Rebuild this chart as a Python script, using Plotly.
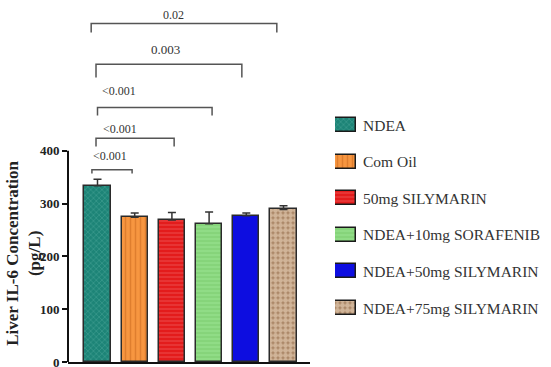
import plotly.graph_objects as go

# ---- data ----
groups = ["NDEA", "Corn Oil", "50mg SILYMARIN", "NDEA+10mg SORAFENIB",
          "NDEA+50mg SILYMARIN", "NDEA+75mg SILYMARIN"]
legend_labels = ["NDEA", "Com Oil", "50mg SILYMARIN", "NDEA+10mg SORAFENIB",
                 "NDEA+50mg SILYMARIN", "NDEA+75mg SILYMARIN"]
means = [334, 274, 269, 262, 277, 289]
sems = [12, 8, 14, 22, 5, 7]
y_ticks = [0, 100, 200, 300, 400]
# comparisons: (group a, group b, p label)
comparisons = [(0, 5, "0.02"), (0, 4, "0.003"), (0, 3, "<0.001"),
               (0, 2, "<0.001"), (0, 1, "<0.001")]

# ---- styles ----
colors = ["#1d8477", "#f79640", "#e31c1c", "#90dc86", "#0d0de0", "#a88464"]
patterns = [
    dict(shape="x", fgcolor="#5fb5a8", size=4, solidity=0.3),
    dict(shape="|", fgcolor="#c8661c", size=5, solidity=0.3),
    dict(shape="-", fgcolor="#f26a6a", size=4, solidity=0.3),
    dict(shape="-", fgcolor="#6cc25e", size=4, solidity=0.3),
    dict(shape=""),
    dict(shape=".", fgcolor="#f7e4cc", size=5, solidity=0.75),
]
# bracket geometry: (x_left, x_right, y_top, y_drop, text_x, text_y, font size)
bracket_geo = [
    (-0.17, 4.82, 641, 624, 2.03, 658, 12),
    (-0.04, 3.88, 564, 539, 1.84, 592, 13),
    (0.0, 3.08, 482, 467, 0.58, 514, 12),
    (-0.04, 2.06, 424, 408, 0.60, 442, 12),
    (-0.15, 0.93, 364, 357, 0.34, 391, 12),
]

serif = "Liberation Serif, Times New Roman, serif"
W, H = 551, 367
ML, MR, MT, MB = 68, 5, 3, 5
PW = W - ML - MR
def px2paper(px):
    return (px - ML) / PW

fig = go.Figure()
xs = list(range(len(groups)))
for i in xs:
    fig.add_trace(go.Bar(
        x=[i], y=[means[i]], width=0.70, name=groups[i],
        marker=dict(color=colors[i],
                    line=dict(color="#2a2a2a", width=1.5),
                    pattern=patterns[i] if patterns[i]["shape"] else None),
        error_y=dict(type="data", array=[sems[i]], arrayminus=[0], symmetric=False,
                     color="#333333", thickness=1.5, width=4),
        showlegend=False, xaxis="x", yaxis="y"))

# legend swatches (manual legend on secondary axes)
for i in xs:
    fig.add_trace(go.Bar(
        x=[1], y=[i], orientation="h", width=0.38,
        marker=dict(color=colors[i],
                    line=dict(color="#1a1a1a", width=1.5),
                    pattern=patterns[i] if patterns[i]["shape"] else None),
        showlegend=False, xaxis="x2", yaxis="y2", hoverinfo="skip"))
    fig.add_annotation(xref="paper", yref="y2", x=px2paper(361), y=i,
                       text=legend_labels[i], showarrow=False, xanchor="left",
                       yanchor="middle",
                       font=dict(family=serif, size=15.5, color="#333333"))

shapes = []
for (a, b, lab), (x0, x1, yt, yd, tx, ty, fs) in zip(comparisons, bracket_geo):
    shapes.append(dict(type="path", xref="x", yref="y",
                       path=f"M {x0},{yd} L {x0},{yt} L {x1},{yt} L {x1},{yd}",
                       line=dict(color="#555555", width=1.5)))
    fig.add_annotation(xref="x", yref="y", x=tx, y=ty, text=lab, showarrow=False,
                       xanchor="center", yanchor="middle",
                       font=dict(family=serif, size=fs, color="#333333"))

# y axis line only up to 400
shapes.append(dict(type="line", xref="paper", yref="y", x0=0, x1=0, y0=0, y1=400,
                   line=dict(color="#111111", width=2)))

fig.add_annotation(xref="paper", yref="y", x=px2paper(24), y=205,
                   text="<b>Liver IL-6 Concentration<br>(pg/L)</b>",
                   textangle=-90, showarrow=False, xanchor="center", yanchor="middle",
                   font=dict(family=serif, size=17, color="#222222"))

fig.update_layout(
    width=W, height=H, margin=dict(l=ML, r=MR, t=MT, b=MB, autoexpand=False),
    paper_bgcolor="white", plot_bgcolor="white", showlegend=False,
    bargap=0, shapes=shapes,
    xaxis=dict(domain=[0, px2paper(310)], range=[-0.793, 5.712], showticklabels=False,
               showgrid=False, zeroline=False, showline=True, linecolor="#111111",
               linewidth=2, ticks="", automargin=False),
    yaxis=dict(range=[0, 680], tickvals=y_ticks, showgrid=False, zeroline=False,
               showline=False, ticks="outside", ticklen=5, tickwidth=2,
               tickcolor="#111111", ticklabeloverflow="allow", automargin=False,
               tickfont=dict(family=serif, size=13, color="#222222", weight="bold")),
    xaxis2=dict(domain=[px2paper(335), px2paper(356)], range=[0, 1], visible=False,
                anchor="y2", automargin=False),
    yaxis2=dict(domain=[0, 1], range=[6.475, -3.333], visible=False, anchor="x2",
                automargin=False),
)

fig.write_html("out.html", config={"displayModeBar": False},
               post_script="document.body.style.margin='0px';"
                           "document.body.style.overflow='hidden';")
